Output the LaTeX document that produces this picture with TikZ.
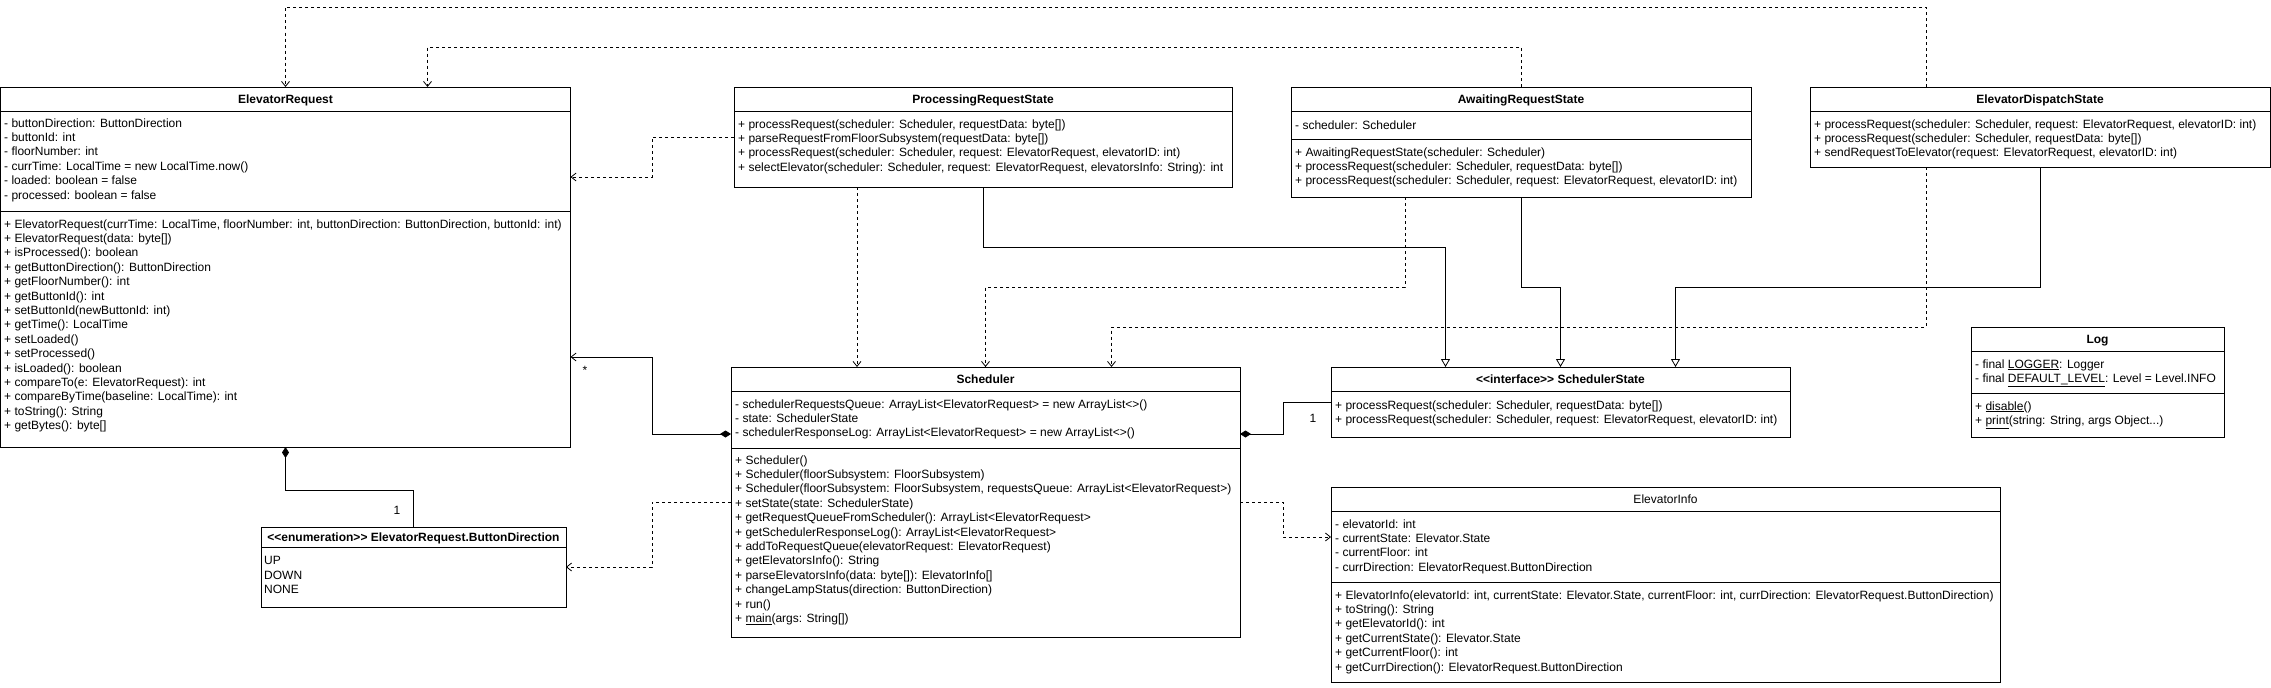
\documentclass[tikz,border=0pt]{standalone}
\usepackage{fontspec}
\setmainfont{Liberation Sans}
\usetikzlibrary{arrows.meta}
\newcommand\umlfont{\fontsize{12}{14.4}\selectfont}
\tikzset{
  umlclass/.style={draw=black, line width=1pt, anchor=north west, inner sep=0pt, outer sep=0pt},
  umlsep/.style={draw=black, line width=1pt},
  umlhead/.style={font=\umlfont\bfseries, inner sep=0pt, text height=8.6pt, text depth=0pt},
  umlplain/.style={font=\umlfont, inner sep=0pt, text height=8.6pt, text depth=0pt},
  umlrows/.style={font=\umlfont, anchor=north west, align=left, inner sep=0pt, yshift=5.8pt, execute at begin node=\strut},
  dep/.style={line width=0.8pt, dash pattern=on 3pt off 3pt, -{Straight Barb[length=5pt,width=8pt]}},
  gen/.style={line width=0.8pt, -{Triangle[open,length=8pt,width=9pt]}},
  compo/.style={line width=0.8pt, {Diamond[length=11pt,width=7pt]}-},
  assoc/.style={line width=0.8pt, {Diamond[length=11pt,width=7pt]}-{Straight Barb[length=5pt,width=8pt]}},
  mult/.style={font=\umlfont, inner sep=0pt}
}
\begin{document}
\begin{tikzpicture}[x=1pt,y=1pt,yscale=-1]
  \useasboundingbox (0,0) rectangle (2271,688);

  % ElevatorRequest
  \node[umlclass, minimum width=570pt, minimum height=360pt] (er) at (0.5,87) {};
  \draw[umlsep] (er.west |- 0,111) -- (er.east |- 0,111);
  \draw[umlsep] (er.west |- 0,211) -- (er.east |- 0,211);
  \node[umlhead] (er-name) at (er.north |- 0,99) {ElevatorRequest};
  \node[umlrows] (er-attr) at (4,124) {- buttonDirection: ButtonDirection\\
    - buttonId: int\\
    - floorNumber: int\\
    - currTime: LocalTime = new LocalTime.now()\\
    - loaded: boolean = false\\
    - processed: boolean = false};
  \node[umlrows] (er-ops) at (4,225) {+ ElevatorRequest(currTime: LocalTime, floorNumber: int, buttonDirection: ButtonDirection, buttonId: int)\\
    + ElevatorRequest(data: byte[])\\
    + isProcessed(): boolean\\
    + getButtonDirection(): ButtonDirection\\
    + getFloorNumber(): int\\
    + getButtonId(): int\\
    + setButtonId(newButtonId: int)\\
    + getTime(): LocalTime\\
    + setLoaded()\\
    + setProcessed()\\
    + isLoaded(): boolean\\
    + compareTo(e: ElevatorRequest): int\\
    + compareByTime(baseline: LocalTime): int\\
    + toString(): String\\
    + getBytes(): byte[]};

  % ProcessingRequestState
  \node[umlclass, minimum width=498pt, minimum height=100pt] (prs) at (734,87) {};
  \draw[umlsep] (prs.west |- 0,111) -- (prs.east |- 0,111);
  \node[umlhead] (prs-name) at (prs.north |- 0,99) {ProcessingRequestState};
  \node[umlrows] (prs-ops) at (738,125) {+ processRequest(scheduler: Scheduler, requestData: byte[])\\
    + parseRequestFromFloorSubsystem(requestData: byte[])\\
    + processRequest(scheduler: Scheduler, request: ElevatorRequest, elevatorID: int)\\
    + selectElevator(scheduler: Scheduler, request: ElevatorRequest, elevatorsInfo: String): int};

  % AwaitingRequestState
  \node[umlclass, minimum width=460pt, minimum height=110pt] (ars) at (1291,87) {};
  \draw[umlsep] (ars.west |- 0,111) -- (ars.east |- 0,111);
  \draw[umlsep] (ars.west |- 0,139) -- (ars.east |- 0,139);
  \node[umlhead] (ars-name) at (ars.north |- 0,99) {AwaitingRequestState};
  \node[umlrows] (ars-attr) at (1295,125) {- scheduler: Scheduler};
  \node[umlrows] (ars-ops) at (1295,153) {+ AwaitingRequestState(scheduler: Scheduler)\\
    + processRequest(scheduler: Scheduler, requestData: byte[])\\
    + processRequest(scheduler: Scheduler, request: ElevatorRequest, elevatorID: int)};

  % ElevatorDispatchState
  \node[umlclass, minimum width=460pt, minimum height=80pt] (eds) at (1810,87) {};
  \draw[umlsep] (eds.west |- 0,111) -- (eds.east |- 0,111);
  \node[umlhead] (eds-name) at (eds.north |- 0,99) {ElevatorDispatchState};
  \node[umlrows] (eds-ops) at (1814,125) {+ processRequest(scheduler: Scheduler, request: ElevatorRequest, elevatorID: int)\\
    + processRequest(scheduler: Scheduler, requestData: byte[])\\
    + sendRequestToElevator(request: ElevatorRequest, elevatorID: int)};

  % Scheduler
  \node[umlclass, minimum width=509pt, minimum height=270pt] (sch) at (731,367) {};
  \draw[umlsep] (sch.west |- 0,391) -- (sch.east |- 0,391);
  \draw[umlsep] (sch.west |- 0,448) -- (sch.east |- 0,448);
  \node[umlhead] (sch-name) at (sch.north |- 0,379) {Scheduler};
  \node[umlrows] (sch-attr) at (735,405) {- schedulerRequestsQueue: ArrayList<ElevatorRequest> = new ArrayList<>()\\
    - state: SchedulerState\\
    - schedulerResponseLog: ArrayList<ElevatorRequest> = new ArrayList<>()};
  \node[umlrows] (sch-ops) at (735,461) {+ Scheduler()\\
    + Scheduler(floorSubsystem: FloorSubsystem)\\
    + Scheduler(floorSubsystem: FloorSubsystem, requestsQueue: ArrayList<ElevatorRequest>)\\
    + setState(state: SchedulerState)\\
    + getRequestQueueFromScheduler(): ArrayList<ElevatorRequest>\\
    + getSchedulerResponseLog(): ArrayList<ElevatorRequest>\\
    + addToRequestQueue(elevatorRequest: ElevatorRequest)\\
    + getElevatorsInfo(): String\\
    + parseElevatorsInfo(data: byte[]): ElevatorInfo[]\\
    + changeLampStatus(direction: ButtonDirection)\\
    + run()\\
    + \underline{main}(args: String[])};

  % SchedulerState
  \node[umlclass, minimum width=459pt, minimum height=70pt] (sst) at (1331,367) {};
  \draw[umlsep] (sst.west |- 0,391) -- (sst.east |- 0,391);
  \node[umlhead] (sst-name) at (sst.north |- 0,379) {{<}{<}interface{>}{>} SchedulerState};
  \node[umlrows] (sst-ops) at (1335,406) {+ processRequest(scheduler: Scheduler, requestData: byte[])\\
    + processRequest(scheduler: Scheduler, request: ElevatorRequest, elevatorID: int)};

  % ElevatorInfo
  \node[umlclass, minimum width=669pt, minimum height=195pt] (einfo) at (1331,487) {};
  \draw[umlsep] (einfo.west |- 0,511) -- (einfo.east |- 0,511);
  \draw[umlsep] (einfo.west |- 0,582) -- (einfo.east |- 0,582);
  \node[umlplain] (einfo-name) at (einfo.north |- 0,499) {ElevatorInfo};
  \node[umlrows] (einfo-attr) at (1335,525) {- elevatorId: int\\
    - currentState: Elevator.State\\
    - currentFloor: int\\
    - currDirection: ElevatorRequest.ButtonDirection};
  \node[umlrows] (einfo-ops) at (1335,596) {+ ElevatorInfo(elevatorId: int, currentState: Elevator.State, currentFloor: int, currDirection: ElevatorRequest.ButtonDirection)\\
    + toString(): String\\
    + getElevatorId(): int\\
    + getCurrentState(): Elevator.State\\
    + getCurrentFloor(): int\\
    + getCurrDirection(): ElevatorRequest.ButtonDirection};

  % Log
  \node[umlclass, minimum width=253pt, minimum height=110pt] (log) at (1971,327) {};
  \draw[umlsep] (log.west |- 0,351) -- (log.east |- 0,351);
  \draw[umlsep] (log.west |- 0,393) -- (log.east |- 0,393);
  \node[umlhead] (log-name) at (log.north |- 0,339) {Log};
  \node[umlrows] (log-attr) at (1975,365) {- final \underline{LOGGER}: Logger\\
    - final \underline{DEFAULT\_LEVEL}: Level = Level.INFO};
  \node[umlrows] (log-ops) at (1975,407) {+ \underline{disable}()\\
    + \underline{print}(string: String, args Object...)};

  % ElevatorRequest.ButtonDirection
  \node[umlclass, minimum width=305pt, minimum height=80pt] (dir) at (261,527) {};
  \draw[umlsep] (dir.west |- 0,547) -- (dir.east |- 0,547);
  \node[umlhead] (dir-name) at (dir.north |- 0,537) {{<}{<}enumeration{>}{>} ElevatorRequest.ButtonDirection};
  \node[umlrows] (dir-vals) at (264,562) {UP\\
    DOWN\\
    NONE};

  % connectors
  \draw[dep] ([xshift=-114pt]eds.north) -- ++(0,-80) -| (er.north);
  \draw[dep] (ars.north) -- ++(0,-40) -| ([xshift=142pt]er.north);
  \draw[dep] (prs.west) -- ++(-82,0) |- (er.east |- 0,177);
  \draw[dep] ([xshift=-126pt]prs.south) -- ++(0,180);
  \draw[gen] (prs.south) -- ++(0,60) -| ([xshift=-115pt]sst.north);
  \draw[dep] ([xshift=-116pt]ars.south) -- ++(0,90) -| (sch.north);
  \draw[gen] (ars.south) -- ++(0,90) -| (sst.north);
  \draw[gen] (eds.south) -- ++(0,120) -| ([xshift=115pt]sst.north);
  \draw[dep] ([xshift=-114pt]eds.south) -- ++(0,160) -| ([xshift=126pt]sch.north);

  \draw[assoc] (sch.west |- 0,434) -- ++(-79,0) |- (er.east |- 0,357);
  \node[mult] (er-many) at (585,370) {*};
  \draw[compo] (sch.east |- 0,434) -- ++(43,0) |- (sst.west);
  \node[mult] (sst-one) at (1313,418) {1};
  \draw[compo] (er.south) -- ++(0,43) -| (dir.north);
  \node[mult] (dir-one) at (397,510) {1};
  \draw[dep] (sch.west) -- ++(-79,0) |- (dir.east);
  \draw[dep] (sch.east) -- ++(43,0) |- (einfo.west |- 0,537);
\end{tikzpicture}
\end{document}
